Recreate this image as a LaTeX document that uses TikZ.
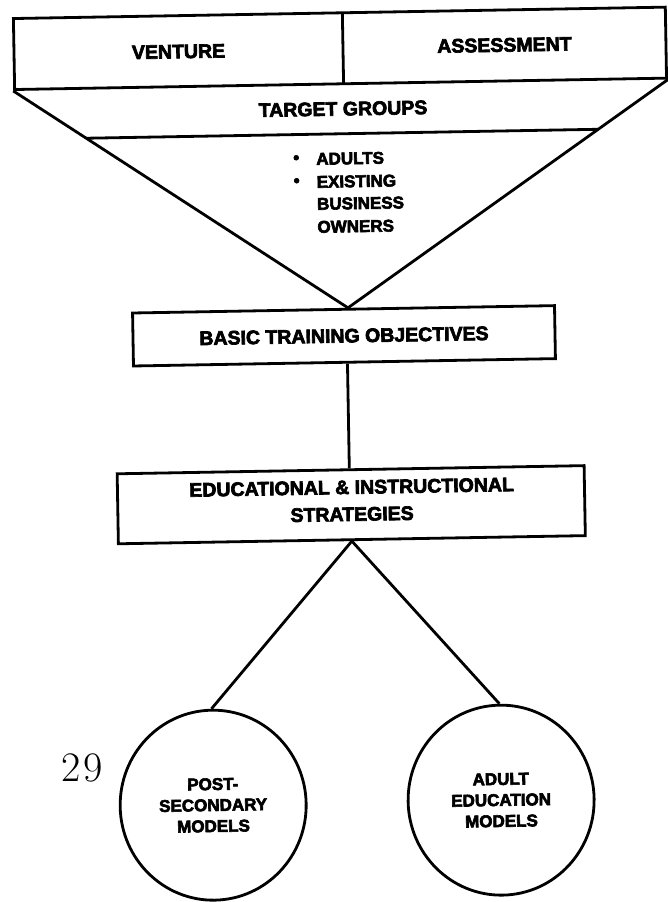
\documentclass[tikz,border=0pt]{standalone}
\usepackage{fontspec}
\setmainfont{Liberation Sans}[BoldFeatures={FakeBold=3.5}]
\newfontfamily\pagefont{Latin Modern Roman}
\usetikzlibrary{shapes.geometric,calc}
\begin{document}
\begin{tikzpicture}[x=1pt,y=-1pt,line width=2.8pt,
  boxst/.style={draw, rectangle, inner sep=0pt},
  big/.style={font=\bfseries\fontsize{19.5}{27}\selectfont, inner sep=0pt, align=center},
  mid/.style={font=\bfseries\fontsize{17}{21}\selectfont, inner sep=0pt, align=center},
  bul/.style={font=\bfseries\fontsize{17}{21}\selectfont, inner sep=0pt, anchor=west},
  circ/.style={draw, ellipse, inner sep=0pt, minimum width=186pt, minimum height=190pt}]
\useasboundingbox (0,0) rectangle (668,902);
\fill[white] (0,0) rectangle (668,902);
\begin{scope}[rotate around={1:(334,451)}, transform shape]
  % top box
  \node[boxst, minimum width=652pt, minimum height=71pt] (topbox) at (347,48.5) {};
  \coordinate (divtop) at (350,13);
  \coordinate (divbot) at (350,84);
  \draw (divtop) -- (divbot);
  \node[big] (venture) at (185.5,49) {VENTURE};
  \node[big] (assess) at (511.5,48) {ASSESSMENT};
  % basic training objectives
  \node[boxst, big, minimum width=422pt, minimum height=53pt] (bto) at (346,336) {BASIC TRAINING OBJECTIVES};
  % funnel
  \coordinate (apex) at ($(bto.north)+(4.5,0)$);
  \draw (topbox.south west) -- (apex) -- (topbox.south east);
  \coordinate (tgl) at ($(topbox.south west)!0.218!(apex)$);
  \coordinate (tgr) at ($(topbox.south east)!0.218!(apex)$);
  \draw (tgl) -- (tgr);
  \node[big] (tg) at (349,109) {TARGET GROUPS};
  % bullets
  \node[bul] (d1) at (297,158.7) {\textbullet};
  \node[bul] (b1) at (320,158.7) {ADULTS};
  \node[bul] (d2) at (297,181.7) {\textbullet};
  \node[bul] (b2) at (320,181.7) {EXISTING};
  \node[bul] (b3) at (320,203.7) {BUSINESS};
  \node[bul] (b4) at (320,226.7) {OWNERS};
  % educational box
  \node[boxst, minimum width=467pt, minimum height=70pt] (eis) at (350.3,505) {};
  \node[big] (eistext) at (351,501) {EDUCATIONAL \& INSTRUCTIONAL\\STRATEGIES};
  \draw ($(bto.south)+(3,0)$) -- ($(eis.north)+(-1.3,0)$);
  % circles
  \node[circ] (c1) at (207,803) {};
  \node[circ] (c2) at (495,803) {};
  \node[mid] (c1t) at (c1) {POST-\\SECONDARY\\MODELS};
  \node[mid] (c2t) at (c2) {ADULT\\EDUCATION\\MODELS};
  \draw (c1.north) -- (eis.south) -- (c2.north);
\end{scope}
\node[font=\pagefont\fontsize{42}{42}\selectfont, inner sep=0pt] (pg) at (82,768) {2\kern3pt 9};
\end{tikzpicture}
\end{document}
